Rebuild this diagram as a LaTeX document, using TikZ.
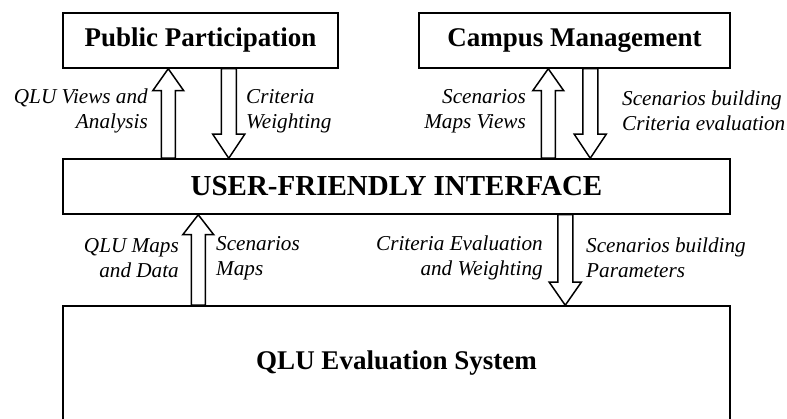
\documentclass[tikz,border=0pt]{standalone}
\usepackage{fontspec}
\setmainfont{Liberation Serif}
\usetikzlibrary{calc}
\tikzset{
  box/.style={draw, line width=1.5pt, inner sep=0pt, font=\bfseries\fontsize{27}{30}\selectfont},
  lbl/.style={inner sep=0pt, font=\itshape\fontsize{21.2}{25}\selectfont},
  blk/.style={draw, line width=1.5pt, fill=white, line join=miter}
}
\newcommand\uparr[3]{% #1 base, #2 tip, #3 head length
  \draw[blk] ($(#1)+(-7,0)$) -- ($(#2)+(-7,#3)$) -- ($(#2)+(-15.5,#3)$) -- (#2)
    -- ($(#2)+(15.5,#3)$) -- ($(#2)+(7,#3)$) -- ($(#1)+(7,0)$) -- cycle;}
\newcommand\dnarr[3]{% #1 base, #2 tip, #3 head length
  \draw[blk] ($(#1)+(-7.5,0)$) -- ($(#2)+(-7.5,-#3)$) -- ($(#2)+(-16,-#3)$) -- (#2)
    -- ($(#2)+(16,-#3)$) -- ($(#2)+(7.5,-#3)$) -- ($(#1)+(7.5,0)$) -- cycle;}
\begin{document}
\begin{tikzpicture}[x=1pt,y=-1pt]
\useasboundingbox (0,0) rectangle (787,419);
\clip (0,0) rectangle (787,419);
\fill[white] (0,0) rectangle (787,419);
\node[box, minimum width=275pt, minimum height=55pt] (pub) at (200.5,40.5) {Public Participation};
\node[box, minimum width=311pt, minimum height=55pt] (cam) at (574.5,40.5) {Campus Management};
\node[box, minimum width=667pt, minimum height=55pt, font=\bfseries\fontsize{29}{32}\selectfont] (ui) at (396.5,186.5) {USER-FRIENDLY INTERFACE};
\node[box, minimum width=667pt, minimum height=114pt] (qlu) at (396.5,363) {QLU Evaluation System};

\coordinate (a1b) at ($(ui.north west)+(106,0)$);
\coordinate (a1t) at ($(pub.south west)+(106,0)$);
\coordinate (a2b) at ($(pub.south west)+(166.5,0)$);
\coordinate (a2t) at ($(ui.north west)+(166.5,0)$);
\coordinate (a3b) at ($(ui.north west)+(486,0)$);
\coordinate (a3t) at ($(cam.south west)+(130,0)$);
\coordinate (a4b) at ($(cam.south west)+(172,0)$);
\coordinate (a4t) at ($(ui.north west)+(528,0)$);
\coordinate (a5b) at ($(qlu.north west)+(136,0)$);
\coordinate (a5t) at ($(ui.south west)+(136,0)$);
\coordinate (a6b) at ($(ui.south west)+(503,0)$);
\coordinate (a6t) at ($(qlu.north west)+(503,0)$);

\uparr{a1b}{a1t}{22}
\dnarr{a2b}{a2t}{24}
\uparr{a3b}{a3t}{22}
\dnarr{a4b}{a4t}{24}
\uparr{a5b}{a5t}{20}
\dnarr{a6b}{a6t}{23}

\node[lbl, anchor=east, align=right] (l1) at (148,111) {QLU Views and\\Analysis};
\node[lbl, anchor=west, align=left] (l2) at (246,111) {Criteria\\Weighting};
\node[lbl, anchor=east, align=right] (l3) at (526,111) {Scenarios\\Maps Views};
\node[lbl, anchor=west, align=left] (l4) at (622,111) {Scenarios building\\Criteria evaluation};
\node[lbl, anchor=east, align=right] (l5) at (179,258) {QLU Maps\\and Data};
\node[lbl, anchor=west, align=left] (l6) at (216,258) {Scenarios\\Maps};
\node[lbl, anchor=east, align=right] (l7) at (543,258) {Criteria Evaluation\\and Weighting};
\node[lbl, anchor=west, align=left] (l8) at (586,258) {Scenarios building\\Parameters};
\end{tikzpicture}
\end{document}
